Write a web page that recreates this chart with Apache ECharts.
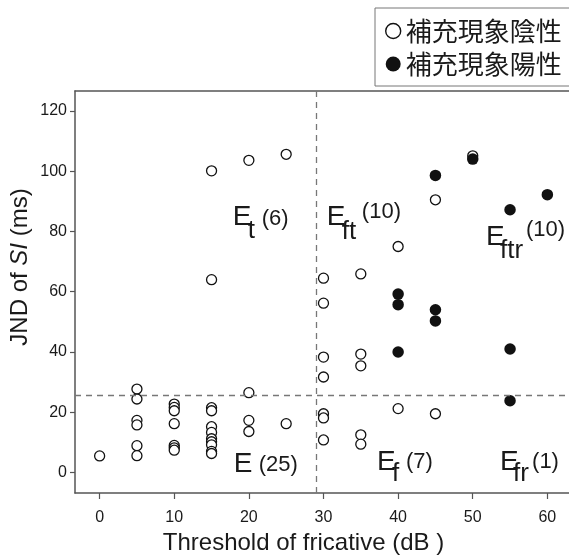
<!DOCTYPE html>
<html>
<head>
<meta charset="utf-8">
<script src="https://cdn.jsdelivr.net/npm/echarts@6/dist/echarts.min.js"></script>
<style>
  html, body { margin: 0; padding: 0; background: #fff; }
  #chart { width: 569px; height: 555px; }
</style>
</head>
<body>
<div id="chart"></div>
<script>
// Series names
const negativeName = '補充現象陰性';
const positiveName = '補充現象陽性';

// Tick labels
const xTicks = [0, 10, 20, 30, 40, 50, 60];
const yTicks = [0, 20, 40, 60, 80, 100, 120];

// Recruitment negative (open circles): threshold (dB) and JND (ms)
const negativeX = [0,
  5, 5, 5, 5, 5, 5,
  10, 10, 10, 10, 10, 10, 10,
  15, 15, 15, 15, 15, 15, 15, 15, 15, 15, 15,
  20, 20, 20, 20,
  25, 25,
  30, 30, 30, 30, 30, 30, 30,
  35, 35, 35, 35, 35,
  40, 40,
  45, 45,
  50];
const negativeY = [5.5,
  27.7, 24.4, 17.3, 15.8, 8.9, 5.6,
  22.7, 21.6, 20.5, 16.2, 9.0, 8.2, 7.4,
  100.1, 64.0, 21.5, 20.5, 15.2, 13.3, 11.2, 10.2, 9.2, 7.0, 6.3,
  103.6, 26.5, 17.3, 13.6,
  105.6, 16.2,
  64.5, 56.2, 38.3, 31.7, 19.5, 18.1, 10.8,
  65.9, 39.3, 35.4, 12.5, 9.4,
  75.0, 21.2,
  90.5, 19.5,
  105.1];

// Recruitment positive (filled circles)
const positiveX = [40, 40, 40, 45, 45, 45, 50, 55, 55, 55, 60];
const positiveY = [59.2, 55.7, 40.0, 98.6, 54.0, 50.3, 104.0, 87.2, 41.0, 23.8, 92.2];

// Group boundaries (dashed lines)
const boundaryX = 29;
const boundaryY = 25.5;

// Group annotation texts
const regionTexts = ['E', 't', '(6)', 'E', 'ft', '(10)', 'E', 'ftr', '(10)',
  'E', '(25)', 'E', 'f', '(7)', 'E', 'fr', '(1)'];

// Anchor of each annotation piece in data space, and its font size
const regionLayout = [
  [17.84, 84.6, 28], [19.85, 80.3, 26], [21.73, 84.0, 22],
  [30.45, 84.6, 28], [32.46, 79.8, 26], [35.14, 86.4, 22],
  [51.78, 78.2, 28], [53.65, 73.5, 26], [57.14, 80.4, 22],
  [17.97, 2.7, 28], [21.33, 2.4, 22],
  [37.16, 3.55, 28], [39.17, -0.4, 26], [41.05, 3.4, 22],
  [53.65, 3.55, 28], [55.40, -0.4, 26], [57.95, 3.4, 22]
];

const FONT = '"Liberation Sans", Arial, Helvetica, sans-serif';
const AXIS_COLOR = '#555';
const TEXT_COLOR = '#1a1a1a';

const pairs = (xs, ys) => xs.map((x, i) => [x, ys[i]]);

const annotationData = regionTexts.map((t, i) => ({
  value: [regionLayout[i][0], regionLayout[i][1]],
  label: { formatter: t, fontSize: regionLayout[i][2] }
}));

const chart = echarts.init(document.getElementById('chart'), null, { renderer: 'canvas' });

chart.setOption({
  animation: false,
  backgroundColor: '#ffffff',
  grid: { left: 75, top: 91, right: 0, bottom: 62, containLabel: false, outerBoundsMode: 'none' },
  legend: {
    orient: 'vertical',
    left: 375,
    top: 8,
    padding: [9, 14, 8, 10],
    itemGap: 5,
    itemWidth: 15,
    itemHeight: 15,
    borderColor: '#777',
    borderWidth: 1,
    backgroundColor: '#fff',
    textStyle: {
      fontFamily: '"Noto Sans CJK JP", sans-serif',
      fontSize: 26,
      lineHeight: 28,
      color: TEXT_COLOR
    },
    data: [
      { name: negativeName, icon: 'circle',
        itemStyle: { color: '#fff', borderColor: '#111', borderWidth: 1.4, opacity: 1 } },
      { name: positiveName, icon: 'circle',
        itemStyle: { color: '#111', borderWidth: 0, opacity: 1 } }
    ]
  },
  xAxis: [{
    type: 'value',
    min: -3.3,
    max: 62.9,
    name: 'Threshold of fricative (dB )',
    nameLocation: 'middle',
    nameGap: 38,
    nameTextStyle: {
      fontFamily: FONT, fontSize: 24, color: TEXT_COLOR,
      padding: [0, 37, 0, 0]
    },
    splitLine: { show: false },
    axisLine: { show: true, onZero: false, lineStyle: { color: AXIS_COLOR, width: 1.5 } },
    axisTick: { show: true, length: 6, customValues: xTicks,
      lineStyle: { color: AXIS_COLOR, width: 1.2 } },
    axisLabel: { customValues: xTicks, margin: 17, fontFamily: FONT, fontSize: 16, color: TEXT_COLOR }
  }, {
    type: 'value',
    position: 'top',
    min: -3.3,
    max: 62.9,
    splitLine: { show: false },
    axisLine: { show: true, onZero: false, lineStyle: { color: AXIS_COLOR, width: 1.5 } },
    axisTick: { show: false },
    axisLabel: { show: false }
  }],
  yAxis: {
    type: 'value',
    min: -6.8,
    max: 126.6,
    name: 'JND of {i|SI} (ms)',
    nameLocation: 'middle',
    nameGap: 43,
    nameMoveOverlap: false,
    nameTextStyle: {
      fontFamily: FONT, fontSize: 24, color: TEXT_COLOR,
      padding: [0, 0, 0, 50],
      rich: { i: { fontFamily: FONT, fontSize: 24, fontStyle: 'italic', color: TEXT_COLOR } }
    },
    splitLine: { show: false },
    axisLine: { show: true, onZero: false, lineStyle: { color: AXIS_COLOR, width: 1.5 } },
    axisTick: { show: true, length: 5, customValues: yTicks,
      lineStyle: { color: AXIS_COLOR, width: 1.2 } },
    axisLabel: { customValues: yTicks, margin: 8, fontFamily: FONT, fontSize: 16, color: TEXT_COLOR }
  },
  series: [
    {
      name: negativeName,
      type: 'scatter',
      symbol: 'circle',
      symbolSize: 10,
      itemStyle: { color: '#fff', borderColor: '#111', borderWidth: 1.3, opacity: 1 },
      data: pairs(negativeX, negativeY),
      markLine: {
        silent: true,
        symbol: 'none',
        label: { show: false },
        lineStyle: { color: '#777', width: 1.3, type: [6, 5] },
        data: [{ xAxis: boundaryX }, { yAxis: boundaryY }]
      },
      z: 3
    },
    {
      name: positiveName,
      type: 'scatter',
      symbol: 'circle',
      symbolSize: 11.5,
      itemStyle: { color: '#111', borderWidth: 0, opacity: 1 },
      data: pairs(positiveX, positiveY),
      z: 4
    },
    {
      name: 'regions',
      type: 'scatter',
      silent: true,
      symbolSize: 1,
      itemStyle: { color: 'transparent', opacity: 1 },
      label: {
        show: true,
        position: 'inside',
        align: 'left',
        verticalAlign: 'middle',
        fontFamily: FONT,
        color: TEXT_COLOR
      },
      data: annotationData,
      z: 5
    }
  ]
});
</script>
</body>
</html>
